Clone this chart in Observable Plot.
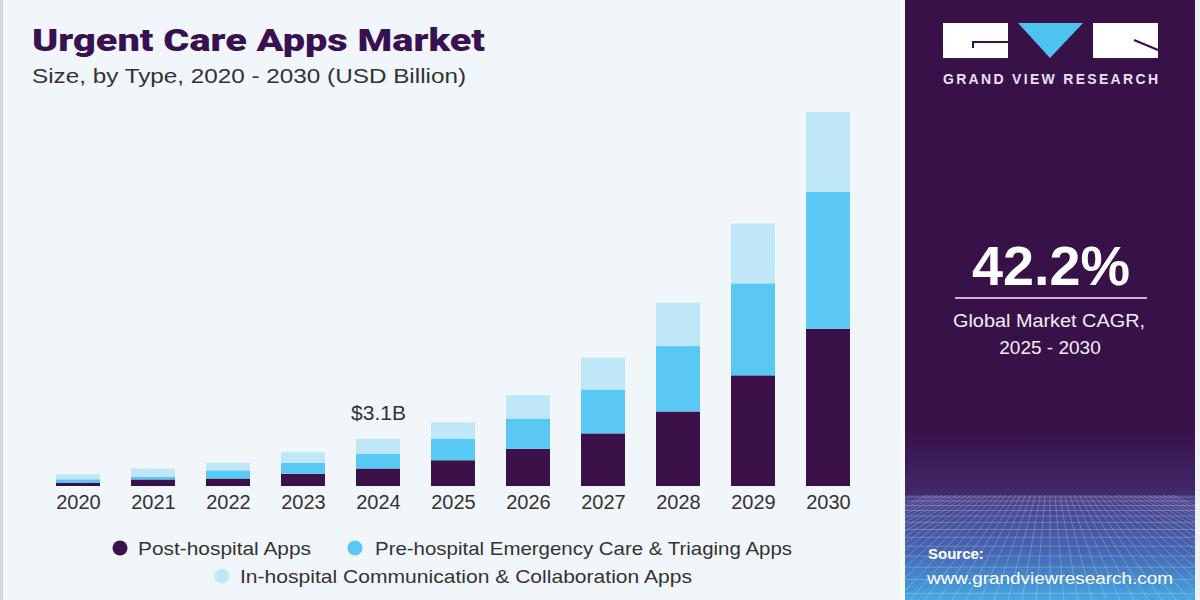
<!DOCTYPE html>
<html>
<head>
<meta charset="utf-8">
<script src="https://cdn.jsdelivr.net/npm/d3@7"></script>
<script src="https://cdn.jsdelivr.net/npm/@observablehq/plot@0.6"></script>
<style>
  html, body { margin: 0; padding: 0; background: #ffffff; }
  #page { position: relative; width: 1200px; height: 600px; overflow: hidden; background: #f1f6fa; font-family: "Liberation Sans", Arial, sans-serif; }
  #left-edge { position: absolute; left: 0; top: 0; width: 3px; height: 600px; background: #d3d8de; }
  #chart { position: absolute; left: 0; top: 100px; }
  #overlay { position: absolute; left: 0; top: 0; }
</style>
</head>
<body>
<div id="page">
  <div id="left-edge"></div>
  <div id="chart"></div>
  <svg id="overlay" width="1200" height="600" xmlns="http://www.w3.org/2000/svg"></svg>
</div>
<script>
// Market size by app type, USD billion
const years = ["2020", "2021", "2022", "2023", "2024", "2025", "2026", "2027", "2028", "2029", "2030"];
const postHospital = [0.22, 0.43, 0.49, 0.80, 1.15, 1.69, 2.44, 3.45, 4.89, 7.26, 10.32];
const preHospital  = [0.22, 0.18, 0.54, 0.72, 0.97, 1.42, 1.99, 2.89, 4.29, 6.04, 8.97];
const inHospital   = [0.33, 0.54, 0.49, 0.70, 0.98, 1.07, 1.53, 2.08, 2.85, 3.92, 5.25];

const types = [
  "Post-hospital Apps",
  "Pre-hospital Emergency Care & Triaging Apps",
  "In-hospital Communication & Collaboration Apps"
];
const colors = ["#3a1148", "#5ac8f5", "#bfe7f8"];
const labelledYear = "2024";
const cagr = "42.2%";

// long-format table, stacked bottom-up in series order
const series = [postHospital, preHospital, inHospital];
const rows = years.flatMap((year, i) => types.map((type, k) => ({ year, type, value: series[k][i] })));
const totals = years.map((year, i) => ({ year, total: postHospital[i] + preHospital[i] + inHospital[i] }));

const chart = Plot.plot({
  width: 905,
  height: 430,
  marginTop: 5,
  marginBottom: 44,
  marginLeft: 24,
  marginRight: 24,
  x: { domain: years, padding: 0.414, label: null },
  y: { domain: [0, 25], axis: null },
  color: { domain: types, range: colors },
  style: { background: "transparent", fontFamily: "Liberation Sans, Arial, sans-serif", color: "#333333", overflow: "visible" },
  marks: [
    Plot.barY(rows, { x: "year", y: "value", fill: "type" }),
    Plot.axisX({ tickSize: 0, tickPadding: 8, fontSize: 20, fill: "#333333", label: null }),
    Plot.text(totals.filter(d => d.year === labelledYear), {
      x: "year", y: "total",
      text: d => `$${d.total.toFixed(1)}B`,
      dy: -26, fontSize: 21, fill: "#333333"
    })
  ]
});
document.getElementById("chart").appendChild(chart);

// ---- overlay: titles, legend, side panel ----
const svg = d3.select("#overlay");
const defs = svg.append("defs");

const floorGrad = defs.append("linearGradient").attr("id", "floor").attr("x1", 0).attr("y1", 0).attr("x2", 0).attr("y2", 1);
floorGrad.append("stop").attr("offset", "0%").attr("stop-color", "#4a3f88");
floorGrad.append("stop").attr("offset", "55%").attr("stop-color", "#4766b4");
floorGrad.append("stop").attr("offset", "100%").attr("stop-color", "#44a9e2");

const glowGrad = defs.append("linearGradient").attr("id", "glow").attr("x1", 0).attr("y1", 0).attr("x2", 0).attr("y2", 1);
glowGrad.append("stop").attr("offset", "0%").attr("stop-color", "#381149");
glowGrad.append("stop").attr("offset", "100%").attr("stop-color", "#412a6c");

defs.append("clipPath").attr("id", "floorClip")
  .append("rect").attr("x", 905).attr("y", 495).attr("width", 290).attr("height", 105);

// title block
svg.append("text").attr("x", 32).attr("y", 51)
  .attr("font-family", "Roboto, 'DejaVu Sans', sans-serif").attr("font-weight", 900).attr("font-size", 32)
  .attr("fill", "#3a1150").attr("textLength", 453).attr("lengthAdjust", "spacingAndGlyphs")
  .text("Urgent Care Apps Market");
svg.append("text").attr("x", 32).attr("y", 83)
  .attr("font-family", "Liberation Sans, Arial, sans-serif").attr("font-size", 21)
  .attr("fill", "#333333").attr("textLength", 434).attr("lengthAdjust", "spacingAndGlyphs")
  .text("Size, by Type, 2020 - 2030 (USD Billion)");

// legend
const legendItems = [
  { cx: 120, cy: 548, tx: 138, width: 173 },
  { cx: 355, cy: 548, tx: 375, width: 417 },
  { cx: 222, cy: 576, tx: 240, width: 452 }
];
legendItems.forEach((p, k) => {
  svg.append("circle").attr("cx", p.cx).attr("cy", p.cy).attr("r", 7.5).attr("fill", colors[k]);
  svg.append("text").attr("x", p.tx).attr("y", p.cy + 7)
    .attr("font-family", "Liberation Sans, Arial, sans-serif").attr("font-size", 19)
    .attr("fill", "#333333").attr("textLength", p.width).attr("lengthAdjust", "spacingAndGlyphs")
    .text(types[k]);
});

// side panel
svg.append("rect").attr("x", 900).attr("y", 0).attr("width", 5).attr("height", 600).attr("fill", "#f7f9fb");
svg.append("rect").attr("x", 905).attr("y", 0).attr("width", 290).attr("height", 600).attr("fill", "#381149");
svg.append("rect").attr("x", 905).attr("y", 430).attr("width", 290).attr("height", 65).attr("fill", "url(#glow)");
svg.append("rect").attr("x", 905).attr("y", 495).attr("width", 290).attr("height", 105).attr("fill", "url(#floor)");

// perspective grid on the floor
const grid = svg.append("g").attr("clip-path", "url(#floorClip)")
  .attr("stroke", "#ffffff").attr("stroke-opacity", 0.22).attr("stroke-width", 1).attr("fill", "none");
let gy = 497, step = 4;
while (gy < 600) {
  grid.append("line").attr("x1", 905).attr("x2", 1195).attr("y1", gy).attr("y2", gy);
  gy += step; step *= 1.12;
}
const vx = 1050;
for (let bx = 700; bx <= 1400; bx += 14) {
  grid.append("line").attr("x1", vx + (bx - vx) * 0.35).attr("y1", 495)
    .attr("x2", bx).attr("y2", 600);
}
svg.append("rect").attr("x", 1195).attr("y", 0).attr("width", 5).attr("height", 600).attr("fill", "#eef2f7");

// logo
svg.append("rect").attr("x", 943).attr("y", 23).attr("width", 65).attr("height", 35).attr("fill", "#ffffff");
svg.append("path").attr("d", "M973,48 V42 H1008").attr("stroke", "#381149").attr("stroke-width", 2).attr("fill", "none");
svg.append("polygon").attr("points", "1018,23 1083,23 1050,58").attr("fill", "#4fc3f0");
svg.append("rect").attr("x", 1093).attr("y", 23).attr("width", 65).attr("height", 35).attr("fill", "#ffffff");
svg.append("path").attr("d", "M1134,40 L1158,50").attr("stroke", "#381149").attr("stroke-width", 2).attr("fill", "none");
svg.append("text").attr("x", 943).attr("y", 84)
  .attr("font-family", "Liberation Sans, Arial, sans-serif").attr("font-weight", 700).attr("font-size", 14)
  .attr("fill", "#e9e1f1").attr("textLength", 215).attr("lengthAdjust", "spacing")
  .text("GRAND VIEW RESEARCH");

// CAGR
svg.append("text").attr("x", 972).attr("y", 285)
  .attr("font-family", "Liberation Sans, Arial, sans-serif").attr("font-weight", 700).attr("font-size", 56)
  .attr("fill", "#ffffff").attr("textLength", 158).attr("lengthAdjust", "spacingAndGlyphs")
  .text(cagr);
svg.append("line").attr("x1", 955).attr("x2", 1147).attr("y1", 298).attr("y2", 298)
  .attr("stroke", "#c8b5dd").attr("stroke-width", 2);
svg.append("text").attr("x", 953).attr("y", 327)
  .attr("font-family", "Liberation Sans, Arial, sans-serif").attr("font-size", 19)
  .attr("fill", "#f2eef6").attr("textLength", 192).attr("lengthAdjust", "spacingAndGlyphs")
  .text("Global Market CAGR,");
svg.append("text").attr("x", 1050).attr("y", 354).attr("text-anchor", "middle")
  .attr("font-family", "Liberation Sans, Arial, sans-serif").attr("font-size", 19)
  .attr("fill", "#f2eef6")
  .text("2025 - 2030");

// source
svg.append("text").attr("x", 928).attr("y", 559)
  .attr("font-family", "Liberation Sans, Arial, sans-serif").attr("font-weight", 700).attr("font-size", 15)
  .attr("fill", "#ffffff").text("Source:");
svg.append("text").attr("x", 927).attr("y", 584)
  .attr("font-family", "Liberation Sans, Arial, sans-serif").attr("font-size", 16)
  .attr("fill", "#ffffff").attr("textLength", 246).attr("lengthAdjust", "spacingAndGlyphs")
  .text("www.grandviewresearch.com");
</script>
</body>
</html>
